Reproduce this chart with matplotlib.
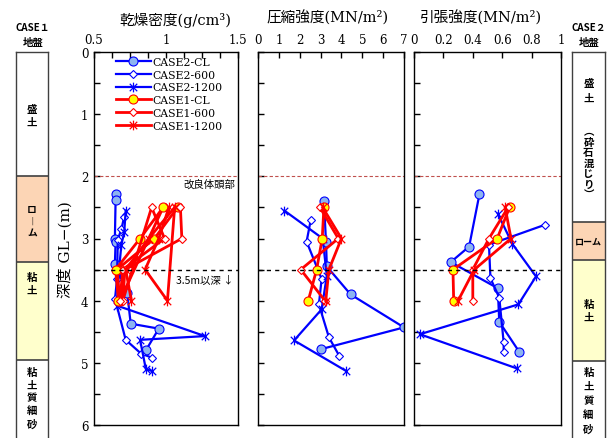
import matplotlib.pyplot as plt
from matplotlib.path import Path
from matplotlib.ticker import MultipleLocator, FixedLocator
from matplotlib.lines import Line2D

plt.rcParams['font.family'] = ['DejaVu Serif', 'Noto Sans CJK JP']
JP = ['Noto Sans CJK JP', 'DejaVu Sans']

# ---- 乾燥密度 (g/cm3) ----
dens_c2cl_z = [2.28, 2.38, 3.0, 3.06, 3.41, 3.87, 4.37, 4.45, 4.8]
dens_c2cl = [0.65, 0.65, 0.645, 0.65, 0.645, 0.73, 0.755, 0.95, 0.86]
dens_c2600_z = [2.65, 2.85, 3.02, 3.65, 3.97, 4.63, 4.85, 4.92]
dens_c2600 = [0.71, 0.69, 0.665, 0.66, 0.646, 0.72, 0.826, 0.905]
dens_c21200_z = [2.55, 2.9, 3.1, 3.6, 4.08, 4.57, 4.63, 5.1, 5.13]
dens_c21200 = [0.72, 0.71, 0.69, 0.67, 0.66, 1.27, 0.82, 0.86, 0.90]
dens_c1_z = [2.5, 3.0, 3.5, 4.0, 2.5, 3.0, 3.5, 4.0]
dens_c1cl = [1.08, 0.92, 0.66, 0.68, 0.98, 0.82, 0.65, 0.67]
dens_c1600 = [1.10, 1.11, 0.715, 0.70, 0.90, 0.99, 0.70, 0.68]
dens_c11200 = [1.02, 0.95, 0.855, 1.01, 1.06, 0.88, 0.72, 0.76]

# ---- 圧縮強度 (MN/m2) ----
comp_c2cl_z = [2.4, 3.05, 3.45, 3.9, 4.43, 4.78]
comp_c2cl = [3.16, 3.26, 3.3, 4.44, 7.0, 3.02]
comp_c2600_z = [2.7, 3.05, 3.65, 4.06, 4.59, 4.89]
comp_c2600 = [2.53, 2.33, 3.05, 2.92, 3.40, 3.90]
comp_c21200_z = [2.55, 3.0, 3.6, 4.14, 4.64, 5.13]
comp_c21200 = [1.26, 3.1, 3.3, 3.05, 1.73, 4.22]
comp_c1_z = [2.5, 3.0, 3.5, 4.0]
comp_c1cl = [3.16, 3.08, 2.81, 2.41]
comp_c1600 = [2.97, 3.85, 2.05, 3.21]
comp_c11200 = [3.1, 4.0, 3.4, 3.25]

# ---- 引張強度 (MN/m2) ----
tens_c2cl_z = [2.29, 3.13, 3.38, 3.80, 4.34, 4.82]
tens_c2cl = [0.445, 0.375, 0.25, 0.57, 0.58, 0.715]
tens_c2600_z = [2.78, 3.1, 3.64, 3.95, 4.67, 4.82]
tens_c2600 = [0.89, 0.51, 0.52, 0.58, 0.61, 0.61]
tens_c21200_z = [2.60, 3.09, 3.61, 4.06, 4.54, 5.09]
tens_c21200 = [0.57, 0.67, 0.83, 0.71, 0.04, 0.70]
tens_c1_z = [2.5, 3.0, 3.5, 4.0]
tens_c1cl = [0.65, 0.566, 0.265, 0.27]
tens_c1600 = [0.64, 0.51, 0.40, 0.40]
tens_c11200 = [0.62, 0.66, 0.41, 0.30]

# 地盤
case1_bounds = [0, 2.0, 3.37, 4.95, 6.3]
case2_bounds = [0, 2.74, 3.34, 4.97, 6.3]
layer_colors = ['white', '#fcd5b5', '#ffffcc', 'white']

series_names = ['CASE2-CL', 'CASE2-600', 'CASE2-1200', 'CASE1-CL', 'CASE1-600', 'CASE1-1200']

# asterisk: X with a vertical bar
star = Path([(-1, -1), (1, 1), (-1, 1), (1, -1), (0, -1.3), (0, 1.3)],
            [Path.MOVETO, Path.LINETO] * 3)

BLUE = '#0000ff'
RED = '#ff0000'
styles = [
    dict(color=BLUE, lw=1.6, marker='o', ms=6.5, mfc='#8db4f0', mec=BLUE, mew=0.8),
    dict(color=BLUE, lw=1.6, marker='D', ms=4, mfc='white', mec=BLUE, mew=0.8),
    dict(color=BLUE, lw=1.6, marker=star, ms=7, mfc='none', mec=BLUE, mew=0.9),
    dict(color=RED, lw=2.0, marker='o', ms=6.5, mfc='#ffff00', mec=RED, mew=0.8),
    dict(color=RED, lw=2.0, marker='D', ms=4, mfc='white', mec=RED, mew=0.8),
    dict(color=RED, lw=2.0, marker=star, ms=7, mfc='none', mec=RED, mew=0.9),
]

W, H = 616, 439
fig = plt.figure(figsize=(W / 100, H / 100), dpi=100)


def px_axes(x0, x1, y0, y1):
    return fig.add_axes([x0 / W, 1 - y1 / H, (x1 - x0) / W, (y1 - y0) / H])


ax1 = px_axes(94, 238, 53, 426)
ax2 = px_axes(258, 404, 53, 426)
ax3 = px_axes(414, 561, 53, 426)

panels = [
    (ax1, [(dens_c2cl_z, dens_c2cl), (dens_c2600_z, dens_c2600), (dens_c21200_z, dens_c21200),
           (dens_c1_z, dens_c1cl), (dens_c1_z, dens_c1600), (dens_c1_z, dens_c11200)]),
    (ax2, [(comp_c2cl_z, comp_c2cl), (comp_c2600_z, comp_c2600), (comp_c21200_z, comp_c21200),
           (comp_c1_z, comp_c1cl), (comp_c1_z, comp_c1600), (comp_c1_z, comp_c11200)]),
    (ax3, [(tens_c2cl_z, tens_c2cl), (tens_c2600_z, tens_c2600), (tens_c21200_z, tens_c21200),
           (tens_c1_z, tens_c1cl), (tens_c1_z, tens_c1600), (tens_c1_z, tens_c11200)]),
]

for ax, data in panels:
    for (z, v), st in zip(data, styles):
        ax.plot(v, z, **st)
    ax.axhline(2.0, color='#c0504d', lw=0.8, dashes=(3, 2))
    ax.axhline(3.5, color='black', lw=1.0, dashes=(3, 3))
    ax.set_ylim(6, 0)
    ax.yaxis.set_major_locator(MultipleLocator(1))
    ax.yaxis.set_minor_locator(MultipleLocator(0.5))
    ax.xaxis.tick_top()
    ax.tick_params(which='both', direction='in', length=4, width=1,
                   top=True, bottom=False, right=False, left=True,
                   labelsize=8.5, pad=4)
    for s in ax.spines.values():
        s.set_linewidth(1.0)

ax1.set_xlim(0.5, 1.5)
ax1.xaxis.set_major_locator(FixedLocator([0.5, 1, 1.5]))
ax1.xaxis.set_minor_locator(MultipleLocator(0.125))
ax1.set_xticklabels(['0.5', '1', '1.5'])
ax1.set_yticks(range(7))
ax1.set_yticklabels([str(i) for i in range(7)])

ax2.set_xlim(0, 7)
ax2.set_xticks(range(8))
ax2.set_xticklabels([str(i) for i in range(8)])
ax2.set_yticklabels([])

ax3.set_xlim(0, 1)
ax3.set_xticks([0, 0.2, 0.4, 0.6, 0.8, 1])
ax3.set_xticklabels(['0', '0.2', '0.4', '0.6', '0.8', '1'])
ax3.set_yticklabels([])

ax1.text(1.48, 2.12, '改良体頭部', ha='right', va='center', fontsize=7.5, family=JP)
ax1.text(1.47, 3.66, '3.5m以深 ↓', ha='right', va='center', fontsize=7.5, family=JP)

# titles
fig.text(175 / W, 1 - 20 / H, '乾燥密度(g/cm³)', ha='center', va='center', fontsize=10.5)
fig.text(328 / W, 1 - 18 / H, '圧縮強度(MN/m²)', ha='center', va='center', fontsize=10.5)
fig.text(481 / W, 1 - 18 / H, '引張強度(MN/m²)', ha='center', va='center', fontsize=10.5)
fig.text(65 / W, 1 - 250 / H, '深度 GL−(m)', rotation=90, ha='center', va='center',
         fontsize=11)

handles = [Line2D([], [], **st) for st in styles]
ax1.legend(handles, series_names, loc='upper left', bbox_to_anchor=(116 / W, 1 - 58 / H),
           bbox_transform=fig.transFigure, frameon=False, fontsize=7.8,
           handlelength=3.2, handletextpad=0.15, labelspacing=0.25,
           borderpad=0, borderaxespad=0, numpoints=1)

# soil columns
depth_px = 373 / 6


def column(x0, x1, bounds):
    ax = px_axes(x0, x1, 53, H + 5)
    ax.set_xlim(0, 1)
    ax.set_ylim((H + 5 - 53) / depth_px, 0)
    for top, bot, c in zip(bounds[:-1], bounds[1:], layer_colors):
        ax.axhspan(top, bot, color=c, lw=0)
    for b in bounds[1:-1]:
        ax.axhline(b, color='#404040', lw=1.2)
    ax.set_xticks([])
    ax.set_yticks([])
    for s in ax.spines.values():
        s.set_color('#404040')
        s.set_linewidth(1.0)
    return ax


def vtext(ax, chars, start, step, size=7.5):
    for i, ch in enumerate(chars):
        ax.text(0.5, start + i * step, ch, ha='center', va='center',
                fontsize=size, family=JP, weight='bold')


colL = column(16, 48, case1_bounds)
vtext(colL, '盛土', 0.92, 0.21)
vtext(colL, 'ロ︱ム', 2.52, 0.19, 7)
vtext(colL, '粘土', 3.62, 0.2)
vtext(colL, '粘土質細砂', 5.15, 0.205)

colR = column(572, 605, case2_bounds)
vtext(colR, '盛土', 0.5, 0.24)
vtext(colR, '︵砕石混じり︶', 1.27, 0.17)
colR.text(0.5, 3.04, 'ローム', ha='center', va='center', fontsize=6.5,
          family=JP, weight='bold')
vtext(colR, '粘土', 4.05, 0.21)
vtext(colR, '粘土質細砂', 5.15, 0.228)

for xc, label in [(33, 'CASE１'), (589, 'CASE２')]:
    fig.text(xc / W, 1 - 28 / H, label, ha='center', va='center', fontsize=7,
             family=JP, weight='bold')
    fig.text(xc / W, 1 - 43 / H, '地盤', ha='center', va='center', fontsize=7.5,
             family=JP, weight='bold')

fig.savefig('out.png', dpi=100)
